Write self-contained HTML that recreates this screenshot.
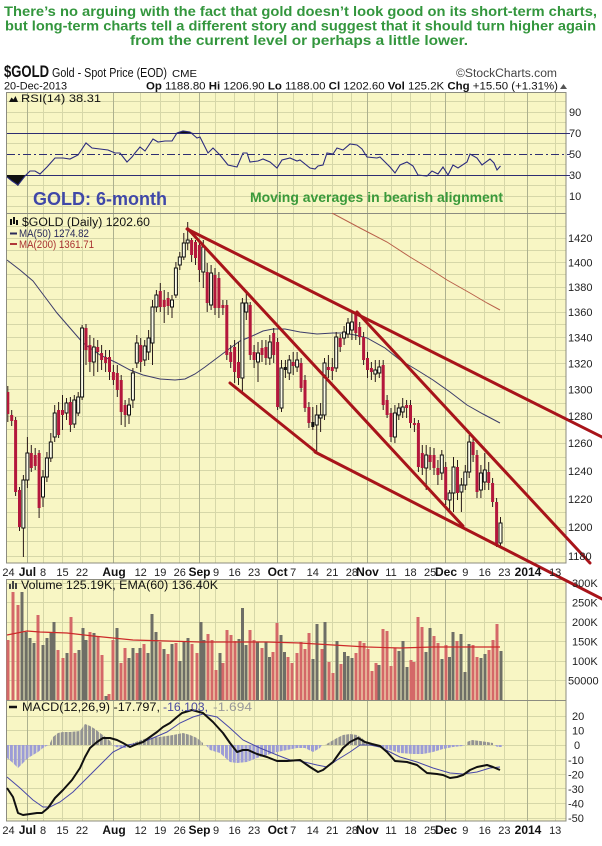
<!DOCTYPE html>
<html><head><meta charset="utf-8"><style>html,body{margin:0;padding:0;background:#fff}svg{display:block}</style></head>
<body>
<svg xmlns="http://www.w3.org/2000/svg" width="602" height="846" viewBox="0 0 602 846" font-family="'Liberation Sans', Arial, sans-serif">
<defs>
<pattern id="hp" x="6" y="0" width="3.91" height="20" patternUnits="userSpaceOnUse"><rect width="3" height="20" fill="#939393"/></pattern>
<pattern id="hn" x="6" y="0" width="3.91" height="20" patternUnits="userSpaceOnUse"><rect width="3" height="20" fill="#9c9cd6"/></pattern>
<clipPath id="cp"><rect x="7" y="213" width="559" height="350"/></clipPath>
</defs>
<rect width="602" height="846" fill="#fff"/>

<!-- Title -->
<g font-weight="bold" font-size="13.5" fill="#33963d">
<text x="4" y="16" textLength="593" lengthAdjust="spacingAndGlyphs">There’s no arguing with the fact that gold doesn’t look good on its short-term charts,</text>
<text x="5" y="30.5" textLength="591" lengthAdjust="spacingAndGlyphs">but long-term charts tell a different story and suggest that it should turn higher again</text>
<text x="130" y="45" textLength="338" lengthAdjust="spacingAndGlyphs">from the current level or perhaps a little lower.</text>
</g>

<!-- Header -->
<text x="4" y="77" font-size="17" font-weight="bold" fill="#111" textLength="45" lengthAdjust="spacingAndGlyphs">$GOLD</text>
<text x="52" y="77" font-size="12.5" fill="#111" textLength="115" lengthAdjust="spacingAndGlyphs">Gold - Spot Price (EOD)</text>
<text x="172" y="77" font-size="10.5" fill="#111" textLength="25" lengthAdjust="spacingAndGlyphs">CME</text>
<text x="456" y="77" font-size="11.5" fill="#444" textLength="101" lengthAdjust="spacingAndGlyphs">©StockCharts.com</text>
<text x="4" y="89.5" font-size="11" fill="#111" textLength="63" lengthAdjust="spacingAndGlyphs">20-Dec-2013</text>
<text x="146" y="89.5" font-size="11" fill="#111" textLength="412" lengthAdjust="spacingAndGlyphs"><tspan font-weight="bold">Op</tspan> 1188.80 <tspan font-weight="bold">Hi</tspan> 1206.90 <tspan font-weight="bold">Lo</tspan> 1188.00 <tspan font-weight="bold">Cl</tspan> 1202.60 <tspan font-weight="bold">Vol</tspan> 125.2K <tspan font-weight="bold">Chg</tspan> +15.50 (+1.31%)</text>
<polygon points="560,89 563.5,84 567,89" fill="#555"/>

<!-- Panel backgrounds -->
<rect x="7" y="92" width="559" height="471" fill="#f8f6c4"/>
<rect x="7" y="579" width="559" height="242" fill="#f8f6c4"/>

<!-- Horizontal gridlines -->
<path fill="none" stroke="#d6d7a8" stroke-width="1" d="M7 101.5H566M7 112.5H566M7 122.5H566M7 143.5H566M7 164.5H566M7 185.5H566M7 196.5H566M7 206.5H566
M7 226.5H566M7 238.5H566M7 250.5H566M7 262.5H566M7 274.5H566M7 287.5H566M7 299.5H566M7 312.5H566M7 324.5H566M7 337.5H566M7 350.5H566M7 363.5H566M7 376.5H566M7 389.5H566M7 403.5H566M7 416.5H566M7 429.5H566M7 443.5H566M7 457.5H566M7 470.5H566M7 484.5H566M7 498.5H566M7 512.5H566M7 527.5H566M7 541.5H566M7 556.5H566
M7 583.5H566M7 602.5H566M7 622.5H566M7 641.5H566M7 661.5H566M7 680.5H566
M7 716.5H566M7 730.5H566M7 745.5H566M7 759.5H566M7 774.5H566M7 788.5H566M7 803.5H566M7 818.5H566"/>
<!-- Vertical gridlines -->
<path fill="none" stroke="#d6d7a8" stroke-width="1" d="M43.5 92V563M43.5 579V821M62.5 92V563M62.5 579V821M82.5 92V563M82.5 579V821M140.5 92V563M140.5 579V821M160.5 92V563M160.5 579V821M179.5 92V563M179.5 579V821M215.5 92V563M215.5 579V821M234.5 92V563M234.5 579V821M254.5 92V563M254.5 579V821M293.5 92V563M293.5 579V821M312.5 92V563M312.5 579V821M332.5 92V563M332.5 579V821M351.5 92V563M351.5 579V821M391.5 92V563M391.5 579V821M410.5 92V563M410.5 579V821M430.5 92V563M430.5 579V821M465.5 92V563M465.5 579V821M484.5 92V563M484.5 579V821M504.5 92V563M504.5 579V821M555.5 92V563M555.5 579V821"/>
<path fill="none" stroke="#adb18f" stroke-width="1" d="M27.5 92V563M27.5 579V821M113.5 92V563M113.5 579V821M199.5 92V563M199.5 579V821M277.5 92V563M277.5 579V821M367.5 92V563M367.5 579V821M445.5 92V563M445.5 579V821M527.5 92V563M527.5 579V821"/>

<!-- Panel borders -->
<g fill="none" stroke="#8c8c80" stroke-width="1">
<rect x="6.5" y="92.5" width="559.5" height="470.5"/>
<line x1="6.5" y1="213.5" x2="566" y2="213.5"/>
<rect x="6.5" y="579.5" width="559.5" height="241.5"/>
<line x1="6.5" y1="700.5" x2="566" y2="700.5"/>
</g>

<!-- RSI -->
<line x1="7" y1="133.5" x2="570" y2="133.5" stroke="#2e2e72" stroke-width="1"/>
<line x1="7" y1="175.5" x2="570" y2="175.5" stroke="#2e2e72" stroke-width="1"/>
<line x1="7" y1="154.5" x2="570" y2="154.5" stroke="#2e2e72" stroke-width="1" stroke-dasharray="8,3,2,3"/>
<polygon points="7,175 25,175 18,186 12,181 7,177" fill="#111"/>
<polygon points="177,133 183,131 190,132 193,133" fill="#111"/>
<polyline fill="none" stroke="#2b2b7e" stroke-width="1.1" points="7,177 12,181 18,185 25,176 30,171 35,171 40,174 47,167 55,158 63,158 70,159 78,155 86,143 92,148 100,149 108,150 115,153 120,153 127,162 132,157 135,153 140,147 145,151 153,139 158,142 165,141 172,141 177,133 183,131 190,132 197,138 200,137 208,153 213,148 220,155 228,165 237,167 243,153 247,153 250,162 258,161 263,159 270,162 277,168 282,160 290,158 297,161 300,160 310,168 315,169 318,166 323,165 327,153 333,154 337,148 343,150 350,144 357,145 362,149 367,157 377,158 380,157 390,167 395,173 400,165 407,162 413,166 418,175 427,176 432,171 438,174 443,167 448,175 453,165 458,168 467,162 470,154 477,158 482,165 490,159 494,163 497,170 500.5,166"/>
<polygon points="9,102 11.5,97.5 13.5,99.5 15.5,96 18,102" fill="#111"/>
<text x="21" y="102" font-size="11" fill="#111" textLength="80" lengthAdjust="spacingAndGlyphs">RSI(14) 38.31</text>

<text x="33" y="205" font-size="18.5" font-weight="bold" fill="#4048a8" textLength="134" lengthAdjust="spacingAndGlyphs">GOLD: 6-month</text>
<text x="250" y="202" font-size="14" font-weight="bold" fill="#3a9a3a" textLength="253" lengthAdjust="spacingAndGlyphs">Moving averages in bearish alignment</text>

<!-- Price panel content -->
<g clip-path="url(#cp)">
<polyline fill="none" stroke="#b8604a" stroke-width="1" points="332,213 360,228 387,242 410,257 430,269 447,280 470,293 487,303 500,310"/>
<polyline fill="none" stroke="#3c3c6a" stroke-width="1" points="7,260 20,270 33,281 45,297 57,313 70,328 83,343 100,355 117,363 130,370 143,375 160,379 175,380 185,379 195,374 205,367 217,358 225,352 233,346 240,341 250,337 263,331 273,329 285,329 300,332 317,334 333,333 343,333 355,335 367,338 385,348 400,360 417,370 433,380 450,392 467,405 483,414 500,423"/>
<path fill="none" stroke="#2a1a1a" stroke-width="1" d="M7.8 386V422M11.7 410V426M15.6 417V496M19.5 487V531M23.4 475V557M27.4 437V488M31.3 445V472M35.2 448V470M39.1 450V518M43 470V507M46.9 452V482M50.8 433V462M54.7 405V442M58.6 402V438M62.5 395V430M66.5 398V420M70.4 397V432M74.3 395V428M78.2 392V416M82.1 325V400M86 324V365M89.9 335V372M93.8 338V376M97.7 340V372M101.6 345V370M105.6 350V372M109.5 350V380M113.4 365V385M117.3 365V397M121.2 375V425M125.1 400V427M129 398V424M132.9 368V408M136.8 335V368M140.7 338V372M144.7 340V366M148.6 330V360M152.5 300V365M156.4 290V312M160.3 283V312M164.2 290V323M168.1 292V315M172 295V318M175.9 262V298M179.8 252V270M183.8 233V260M187.7 222V250M191.6 238V262M195.5 240V265M199.4 242V282M203.3 240V288M207.2 263V312M211.1 265V310M215 268V315M218.9 272V318M222.9 300V315M226.8 300V360M230.7 345V368M234.6 340V383M238.5 342V385M242.4 298V392M246.3 293V320M250.2 302V360M254.1 345V368M258 342V382M262 340V362M265.9 340V365M269.8 335V365M273.7 328V363M277.6 338V410M281.5 360V412M285.4 360V378M289.3 355V380M293.2 352V375M297.1 352V372M301.1 358V392M305 375V412M308.9 402V428M312.8 407V430M316.7 405V452M320.6 403V432M324.5 358V420M328.4 355V378M332.3 358V380M336.2 332V372M340.2 334V352M344.1 326V345M348 318V338M351.9 312V340M355.8 312V340M359.7 322V345M363.6 332V365M367.5 352V378M371.4 362V380M375.3 360V382M379.3 360V378M383.2 360V410M387.1 395V418M391 408V442M394.9 405V443M398.8 403V420M402.7 398V418M406.6 400V418M410.5 400V428M414.4 418V432M418.4 420V472M422.3 445V475M426.2 445V490M430.1 447V470M434 448V475M437.9 460V485M441.8 450V480M445.7 462V505M449.6 490V510M453.5 457V512M457.5 460V500M461.4 478V512M465.3 465V490M469.2 435V478M473.1 438V462M477 450V498M480.9 465V498M484.8 453V490M488.7 462V490M492.6 478V507M496.6 498V547M500.5 517V546"/>
<path fill="#b3173c" d="M6.3 392h3V414h-3zM10.2 415h3V421h-3zM14.1 420h3V492h-3zM18 490h3V527h-3zM29.8 453h3V468h-3zM33.7 455h3V466h-3zM37.6 453h3V508h-3zM57.1 410h3V435h-3zM61 410h3V415h-3zM68.9 402h3V425h-3zM84.5 328h3V350h-3zM88.4 345h3V362h-3zM96.2 347h3V352h-3zM100.1 353h3V360h-3zM104.1 357h3V363h-3zM108 357h3V372h-3zM111.9 372h3V380h-3zM115.8 373h3V390h-3zM119.7 380h3V412h-3zM123.6 405h3V415h-3zM139.2 345h3V362h-3zM158.8 291h3V307h-3zM162.7 300h3V307h-3zM166.6 298h3V306h-3zM190.1 240h3V255h-3zM194 242h3V258h-3zM197.9 245h3V270h-3zM205.7 272h3V303h-3zM213.5 275h3V308h-3zM217.4 278h3V308h-3zM221.4 305h3V308h-3zM225.3 305h3V355h-3zM229.2 352h3V362h-3zM233.1 347h3V372h-3zM237 362h3V378h-3zM248.7 305h3V355h-3zM252.6 352h3V360h-3zM260.5 348h3V355h-3zM264.4 347h3V358h-3zM272.2 333h3V355h-3zM276.1 342h3V407h-3zM291.7 362h3V366h-3zM299.6 363h3V388h-3zM303.5 380h3V408h-3zM307.4 407h3V423h-3zM326.9 367h3V370h-3zM330.8 367h3V371h-3zM338.7 338h3V347h-3zM354.3 313h3V333h-3zM358.2 327h3V337h-3zM362.1 337h3V360h-3zM366 358h3V370h-3zM369.9 368h3V372h-3zM381.7 365h3V405h-3zM385.6 400h3V415h-3zM389.5 413h3V437h-3zM405.1 405h3V408h-3zM409 405h3V423h-3zM412.9 423h3V425h-3zM416.9 423h3V467h-3zM420.8 453h3V468h-3zM428.6 455h3V462h-3zM432.5 455h3V468h-3zM436.4 468h3V475h-3zM444.2 467h3V500h-3zM456 467h3V493h-3zM471.6 442h3V455h-3zM475.5 455h3V492h-3zM487.2 472h3V483h-3zM491.1 483h3V502h-3zM495.1 502h3V545h-3z"/>
<path fill="#111" d="M283.9 367h3V370h-3zM311.3 422h3V427h-3z"/>
<path fill="#fcfce8" stroke="#111" stroke-width="1" d="M21.9 480h3V528h-3zM25.9 453h3V480h-3zM41.5 477h3V497h-3zM45.4 458h3V477h-3zM49.3 442h3V458h-3zM53.2 413h3V437h-3zM65 403h3V413h-3zM72.8 400h3V424h-3zM76.7 397h3V413h-3zM80.6 328h3V397h-3zM92.3 347h3V362h-3zM127.5 405h3V415h-3zM131.4 373h3V400h-3zM135.3 343h3V363h-3zM143.2 346h3V360h-3zM147.1 338h3V352h-3zM151 307h3V343h-3zM154.9 295h3V307h-3zM170.5 300h3V307h-3zM174.4 268h3V295h-3zM178.3 257h3V265h-3zM182.3 243h3V257h-3zM186.2 240h3V243h-3zM201.8 247h3V272h-3zM209.6 273h3V305h-3zM240.9 303h3V378h-3zM244.8 303h3V312h-3zM256.5 353h3V362h-3zM268.3 342h3V358h-3zM280 368h3V408h-3zM287.8 360h3V373h-3zM295.6 360h3V367h-3zM315.2 415h3V425h-3zM319.1 415h3V418h-3zM323 363h3V415h-3zM334.7 337h3V368h-3zM342.6 332h3V338h-3zM346.5 323h3V334h-3zM350.4 322h3V330h-3zM373.8 370h3V374h-3zM377.8 367h3V373h-3zM393.4 413h3V437h-3zM397.3 408h3V415h-3zM401.2 407h3V412h-3zM424.7 455h3V468h-3zM440.3 455h3V473h-3zM448.1 493h3V500h-3zM452 467h3V493h-3zM459.9 485h3V492h-3zM463.8 472h3V485h-3zM467.7 442h3V472h-3zM479.4 473h3V490h-3zM483.3 470h3V482h-3zM499 523h3V543h-3z"/>
</g>

<!-- price labels -->
<rect x="10" y="219" width="2" height="6" fill="#111"/><rect x="13" y="217" width="2" height="7" fill="#111"/><rect x="16" y="220" width="2" height="5" fill="#111"/>
<text x="22" y="226" font-size="11.5" fill="#111" textLength="128" lengthAdjust="spacingAndGlyphs">$GOLD (Daily) 1202.60</text>
<line x1="10" y1="233.5" x2="17" y2="233.5" stroke="#2a2a5a" stroke-width="2"/>
<text x="19" y="237" font-size="11" fill="#2a2a5a" textLength="70" lengthAdjust="spacingAndGlyphs">MA(50) 1274.82</text>
<line x1="10" y1="244" x2="17" y2="244" stroke="#b03838" stroke-width="2"/>
<text x="19" y="248" font-size="11" fill="#a83030" textLength="75" lengthAdjust="spacingAndGlyphs">MA(200) 1361.71</text>

<!-- Volume -->
<path fill="#d46868" d="M6.5 640h3V700h-3zM11.5 592h3V700h-3zM16.5 605h3V700h-3zM36.5 615h3V700h-3zM56.5 650h3V700h-3zM61.5 658h3V700h-3zM69.5 617h3V700h-3zM73.5 653h3V700h-3zM88.5 632h3V700h-3zM96.5 637h3V700h-3zM100.5 655h3V700h-3zM107.5 694h3V700h-3zM111.5 640h3V700h-3zM119.5 663h3V700h-3zM123.5 648h3V700h-3zM135.5 653h3V700h-3zM142.5 644h3V700h-3zM158.5 642h3V700h-3zM166.5 654h3V700h-3zM174.5 643h3V700h-3zM190.5 644h3V700h-3zM195.5 653h3V700h-3zM206.5 634h3V700h-3zM210.5 640h3V700h-3zM214.5 670h3V700h-3zM221.5 663h3V700h-3zM225.5 630h3V700h-3zM229.5 635h3V700h-3zM233.5 641h3V700h-3zM248.5 630h3V700h-3zM252.5 640h3V700h-3zM260.5 648h3V700h-3zM271.5 652h3V700h-3zM275.5 623h3V700h-3zM286.5 657h3V700h-3zM290.5 663h3V700h-3zM295.5 653h3V700h-3zM299.5 642h3V700h-3zM303.5 649h3V700h-3zM307.5 633h3V700h-3zM320.5 649h3V700h-3zM327.5 662h3V700h-3zM331.5 673h3V700h-3zM339.5 664h3V700h-3zM354.5 653h3V700h-3zM358.5 641h3V700h-3zM362.5 643h3V700h-3zM366.5 649h3V700h-3zM370.5 671h3V700h-3zM374.5 663h3V700h-3zM381.5 629h3V700h-3zM385.5 631h3V700h-3zM389.5 666h3V700h-3zM393.5 648h3V700h-3zM409.5 660h3V700h-3zM412.5 662h3V700h-3zM416.5 617h3V700h-3zM420.5 627h3V700h-3zM432.5 636h3V700h-3zM436.5 643h3V700h-3zM444.5 645h3V700h-3zM455.5 641h3V700h-3zM471.5 645h3V700h-3zM475.5 657h3V700h-3zM487.5 650h3V700h-3zM491.5 640h3V700h-3zM495.5 624h3V700h-3z"/>
<path fill="#6e6e66" d="M20.5 592h3V700h-3zM24.5 632h3V700h-3zM28.5 638h3V700h-3zM32.5 643h3V700h-3zM41.5 645h3V700h-3zM45.5 638h3V700h-3zM49.5 632h3V700h-3zM52.5 622h3V700h-3zM65.5 653h3V700h-3zM77.5 650h3V700h-3zM81.5 628h3V700h-3zM84.5 640h3V700h-3zM92.5 633h3V700h-3zM104.5 696h3V700h-3zM115.5 628h3V700h-3zM127.5 658h3V700h-3zM131.5 648h3V700h-3zM138.5 648h3V700h-3zM146.5 653h3V700h-3zM150.5 614h3V700h-3zM154.5 632h3V700h-3zM162.5 649h3V700h-3zM170.5 644h3V700h-3zM178.5 661h3V700h-3zM182.5 641h3V700h-3zM186.5 638h3V700h-3zM199.5 622h3V700h-3zM202.5 640h3V700h-3zM218.5 653h3V700h-3zM237.5 639h3V700h-3zM241 608h3V700h-3zM244.5 645h3V700h-3zM256 642h3V700h-3zM264.5 642h3V700h-3zM268 657h3V700h-3zM279.5 635h3V700h-3zM283 652h3V700h-3zM311.5 659h3V700h-3zM315.5 624h3V700h-3zM323.5 622h3V700h-3zM335.5 641h3V700h-3zM343 652h3V700h-3zM346.5 656h3V700h-3zM350.5 658h3V700h-3zM377.5 665h3V700h-3zM397.5 651h3V700h-3zM401.5 641h3V700h-3zM405.5 667h3V700h-3zM424.5 652h3V700h-3zM428.5 628h3V700h-3zM440.5 659h3V700h-3zM448 657h3V700h-3zM451.5 632h3V700h-3zM459.5 634h3V700h-3zM463.5 672h3V700h-3zM467.5 644h3V700h-3zM479.5 658h3V700h-3zM483.5 654h3V700h-3zM499.5 651h3V700h-3z"/>
<polyline fill="none" stroke="#cc2a2a" stroke-width="1.2" points="7,635 27,631 40,632 67,633 93,636 113,638 133,640 167,641 200,642 233,642 267,642 300,643 333,645 367,647 400,648 433,647 467,647 500,647"/>
<rect x="9" y="584" width="2" height="5" fill="#444"/><rect x="12" y="581" width="2" height="8" fill="#444"/><rect x="15" y="583" width="2" height="6" fill="#444"/>
<text x="21" y="589" font-size="11.5" fill="#111" textLength="197" lengthAdjust="spacingAndGlyphs">Volume 125.19K, EMA(60) 136.40K</text>

<!-- MACD -->
<g fill="url(#hp)">
<polygon points="50,745 50,743 53,737 58,733 63,732 70,732 80,731 85,724 90,726 95,729 100,733 107,738 112,743 112,745"/>
<polygon points="133,745 133,743 147,738 160,737 173,735 183,733 190,735 197,738 203,743 203,745"/>
<polygon points="323,745 325,745 330,742 337,738 343,735 350,734 357,735 362,738 367,743 367,745"/>
<polygon points="467,745 467,742 472,740 480,741 487,742 493,743 493,745"/>
</g>
<g fill="url(#hn)">
<polygon points="7,745 7,758 13,763 18,768 23,763 28,758 33,755 38,752 43,748 48,745"/>
<polygon points="113,745 115,747 125,748 130,747 132,745"/>
<polygon points="206,745 210,750 220,753 230,762 237,763 247,762 257,758 267,755 277,752 287,750 297,748 305,748 313,752 320,748 322,745"/>
<polygon points="369,745 377,747 390,750 400,753 413,754 423,754 433,752 443,749 453,747 463,746 465,745"/>
<polygon points="495,745 497,747 502,747 502,745"/>
</g>
<polyline fill="none" stroke="#4848a8" stroke-width="1" points="7,777 20,788 33,800 43,807 50,807 60,802 73,792 87,778 100,765 113,752 127,745 140,743 153,738 167,732 180,723 193,717 203,714 217,717 230,728 243,740 260,748 277,755 290,760 300,761 317,765 327,767 337,760 350,752 360,745 370,745 380,747 390,752 400,757 417,762 433,768 450,773 463,774 477,772 490,768 500,767"/>
<polyline fill="none" stroke="#111" stroke-width="2" stroke-linejoin="round" points="7,788 13,797 18,813 23,815 30,814 37,813 42,813 48,808 55,798 63,790 72,780 80,768 85,757 90,748 97,742 103,738 110,738 117,740 123,743 130,747 137,744 143,742 150,737 157,732 163,727 170,723 177,717 182,713 192,710 203,713 213,722 223,733 230,743 237,752 243,750 248,750 257,754 267,757 277,761 287,761 300,760 310,767 318,772 323,770 333,762 343,748 350,742 358,738 365,742 372,744 380,746 387,752 395,761 407,762 417,765 427,773 437,774 443,775 450,778 457,777 463,775 470,770 477,767 487,765 493,767 500,770"/>
<line x1="9" y1="707" x2="17" y2="707" stroke="#111" stroke-width="2.5"/>
<text x="22" y="711" font-size="11.5" fill="#111" textLength="138" lengthAdjust="spacingAndGlyphs">MACD(12,26,9) -17.797,</text>
<text x="163" y="711" font-size="11.5" fill="#4a4aa0" textLength="45" lengthAdjust="spacingAndGlyphs">-16.103,</text>
<text x="213" y="711" font-size="11.5" fill="#9a9a9a" textLength="39" lengthAdjust="spacingAndGlyphs">-1.694</text>

<!-- Trendlines -->
<g stroke="#a8141a" stroke-width="3" stroke-linecap="round" fill="none">
<line x1="187" y1="229" x2="604" y2="438"/>
<line x1="188" y1="229" x2="463" y2="526"/>
<line x1="230" y1="383" x2="316" y2="452"/>
<line x1="357" y1="312" x2="590" y2="563"/>
<line x1="315" y1="452" x2="604" y2="600"/>
</g>

<!-- Right axis labels -->
<g font-size="11" fill="#222">
<text x="569" y="116">90</text><text x="569" y="137">70</text><text x="569" y="158">50</text><text x="569" y="179">30</text><text x="569" y="200">10</text>
<text x="568" y="242">1420</text><text x="568" y="266.5">1400</text><text x="568" y="291">1380</text><text x="568" y="316">1360</text><text x="568" y="341.5">1340</text><text x="568" y="367.5">1320</text><text x="568" y="393.5">1300</text><text x="568" y="420">1280</text><text x="568" y="447">1260</text><text x="568" y="475">1240</text><text x="568" y="503">1220</text><text x="568" y="531">1200</text><text x="568" y="560">1180</text>
<text x="572" y="587">300K</text><text x="572" y="606.5">250K</text><text x="572" y="626">200K</text><text x="572" y="645.5">150K</text><text x="572" y="665">100K</text><text x="568" y="684.5">50000</text>
<text x="572" y="720">20</text><text x="572" y="734.5">10</text><text x="574" y="749">0</text><text x="568" y="764">-10</text><text x="568" y="778.5">-20</text><text x="568" y="793">-30</text><text x="568" y="807.5">-40</text><text x="568" y="822">-50</text>
</g>

<!-- Date labels (middle) -->
<g font-size="11" fill="#222" text-anchor="middle">
<text x="8.5" y="576">24</text><text x="43" y="576">8</text><text x="62.5" y="576">15</text><text x="82" y="576">22</text><text x="140.7" y="576">12</text><text x="160.3" y="576">19</text><text x="179.8" y="576">26</text><text x="216" y="576">9</text><text x="234.6" y="576">16</text><text x="254.1" y="576">23</text><text x="293.2" y="576">7</text><text x="312.8" y="576">14</text><text x="332.3" y="576">21</text><text x="351.9" y="576">28</text><text x="391" y="576">11</text><text x="410.5" y="576">18</text><text x="430.1" y="576">25</text><text x="465.3" y="576">9</text><text x="484.8" y="576">16</text><text x="504.4" y="576">23</text><text x="555.2" y="576">13</text>
<text x="8.5" y="834">24</text><text x="43" y="834">8</text><text x="62.5" y="834">15</text><text x="82" y="834">22</text><text x="140.7" y="834">12</text><text x="160.3" y="834">19</text><text x="179.8" y="834">26</text><text x="216" y="834">9</text><text x="234.6" y="834">16</text><text x="254.1" y="834">23</text><text x="293.2" y="834">7</text><text x="312.8" y="834">14</text><text x="332.3" y="834">21</text><text x="351.9" y="834">28</text><text x="391" y="834">11</text><text x="410.5" y="834">18</text><text x="430.1" y="834">25</text><text x="465.3" y="834">9</text><text x="484.8" y="834">16</text><text x="504.4" y="834">23</text><text x="555.2" y="834">13</text>
</g>
<g font-size="12" font-weight="bold" fill="#111" text-anchor="middle">
<text x="27.4" y="576">Jul</text><text x="114" y="576">Aug</text><text x="199.5" y="576">Sep</text><text x="277.6" y="576">Oct</text><text x="367.5" y="576">Nov</text><text x="446" y="576">Dec</text><text x="528" y="576">2014</text>
<text x="27.4" y="834">Jul</text><text x="114" y="834">Aug</text><text x="199.5" y="834">Sep</text><text x="277.6" y="834">Oct</text><text x="367.5" y="834">Nov</text><text x="446" y="834">Dec</text><text x="528" y="834">2014</text>
</g>
</svg>
</body></html>
